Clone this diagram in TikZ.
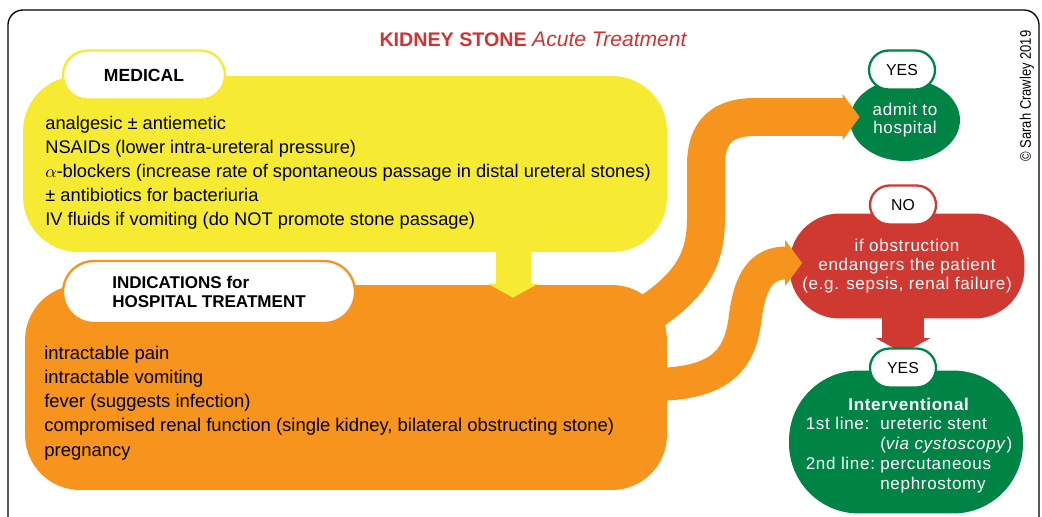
\documentclass[tikz,border=0pt]{standalone}
\usepackage{fontspec}
\setmainfont{Liberation Sans}
\newfontfamily\trackfont[LetterSpace=4]{Liberation Sans}
\newfontfamily\narrowfont[FakeStretch=0.85]{Liberation Sans}
\usetikzlibrary{calc,arrows.meta,shapes.geometric}

\begin{document}
\begin{tikzpicture}[x=0.02cm,y=-0.02cm,line join=round,
  txt/.style={font=\fontsize{10.4}{13.7}\selectfont,text=black,inner sep=0pt,align=left},
  panel/.style={rectangle,rounded corners=1.1cm,inner sep=0pt},
  tabpill/.style={rectangle,fill=white,draw=#1,line width=1.3pt,minimum width=1.32cm,
    minimum height=0.78cm,rounded corners=0.39cm,inner sep=0pt,font=\fontsize{9}{11}\selectfont},
  bubble/.style={fill=#1,text=white,inner sep=0pt,align=center},
  ribbon/.style={draw=orangecol,line width=#1,-{Triangle[length=0.34cm,width=0.9cm]}}]
  \definecolor{yellowcol}{RGB}{246,235,50}
  \definecolor{orangecol}{RGB}{246,148,30}
  \definecolor{greencol}{RGB}{0,132,70}
  \definecolor{redcol}{RGB}{208,56,50}
  \definecolor{titlecol}{RGB}{210,50,50}

  \useasboundingbox (0,0) rectangle (1042,517);
  % outer frame
  \draw[line width=0.75pt,rounded corners=0.3cm] (8,10) rectangle (1039,532);

  % title and credit
  \node[text=titlecol] (title) at (533,39)
    {\fontsize{11.2}{13}\selectfont\bfseries KIDNEY STONE \mdseries\itshape\fontsize{12}{13}\selectfont Acute Treatment};
  \node[rotate=90,font=\narrowfont\fontsize{8.7}{10}\selectfont] (credit) at (1027,96) {© Sarah Crawley 2019};

  % ---- medical panel ----
  \node[panel,fill=yellowcol,minimum width=12.88cm,minimum height=3.52cm] (medbox) at (345,164) {};
  \node[txt,anchor=north west] (medtext) at (45,116)
    {analgesic ± antiemetic\\
     NSAIDs (lower intra-ureteral pressure)\\
     $\alpha$-blockers (increase rate of spontaneous passage in distal ureteral stones)\\
     ± antibiotics for bacteriuria\\
     IV fluids if vomiting (do NOT promote stone passage)};

  % ---- hospital panel ----
  \node[panel,fill=orangecol,minimum width=12.84cm,minimum height=4.1cm] (indbox) at (346,387.5) {};
  \node[txt,anchor=north west,font=\fontsize{10.5}{13.8}\selectfont] (indtext) at (44,345.5)
    {intractable pain\\
     intractable vomiting\\
     fever (suggests infection)\\
     compromised renal function (single kidney, bilateral obstructing stone)\\
     pregnancy};

  % ---- outcome bubbles ----
  \node[ellipse,bubble=greencol,minimum width=2.2cm,minimum height=1.64cm,
    font=\trackfont\fontsize{9.7}{10.2}\selectfont] (admit) at (905,120) {admit to\\ hospital};
  \node[rectangle,rounded corners=1.0cm,bubble=redcol,minimum width=4.7cm,minimum height=2.1cm,
    font=\trackfont\fontsize{9.7}{10.8}\selectfont] (danger) at (907,266)
    {if obstruction\\ endangers the patient\\ (e.g. sepsis, renal failure)};
  \node[rectangle,rounded corners=1.4cm,bubble=greencol,minimum width=4.68cm,minimum height=2.86cm] (interv) at (906,442) {};
  \node[text=white,inner sep=0pt,align=center,font=\trackfont\fontsize{9.7}{11.4}\selectfont] (intervtext) at (909,447)
    {\textbf{Interventional}\\[2pt]
     \begin{tabular}{@{}l@{\hspace{3pt}}l@{}}
       1st line: & ureteric stent\\
                 & (\textit{via cystoscopy})\\
       2nd line: & percutaneous\\
                 & nephrostomy
     \end{tabular}};

  % ---- arrows ----
  \draw[draw=yellowcol,line width=0.7cm,-{Triangle[length=0.28cm,width=1.0cm]}]
    ($(medbox.south)+(168,-2)$) -- ($(indbox.north)+(167,13)$);
  \draw[ribbon=0.76cm] ($(indbox.north east)+(-37,40)$) .. controls (690,290) and (706,262) .. (706,218)
    -- (706,165) .. controls (706,132) and (722,117) .. (755,117) -- ($(admit.west)+(10,-3)$);
  \draw[ribbon=0.66cm] ($(indbox.east)+(-27,-3)$) -- (667,384) .. controls (735,380) and (742,345) .. (746,312)
    .. controls (751,280) and (762,263) .. ($(danger.west)+(13,-3)$);
  \draw[draw=redcol,line width=0.84cm,-{Triangle[length=0.3cm,width=1.08cm]}]
    ($(danger.south)+(-4,-2)$) -- ($(interv.north)+(-3,-17)$);

  % ---- tabs ----
  \node[tabpill=yellowcol,minimum width=3.24cm,minimum height=0.98cm,rounded corners=0.49cm,
    font=\bfseries\fontsize{10}{12}\selectfont] (medtab) at (144,75) {MEDICAL};
  \node[tabpill=orangecol,minimum width=5.84cm,minimum height=1.24cm,rounded corners=0.62cm,align=left,
    font=\bfseries\fontsize{9.7}{10.8}\selectfont] (indtab) at (209,292) {INDICATIONS for\\ HOSPITAL TREATMENT};
  \node[tabpill=greencol] (yes1) at (902,70) {YES};
  \node[tabpill=redcol] (no) at (903,205) {NO};
  \node[tabpill=greencol] (yes2) at (903,368) {YES};
\end{tikzpicture}
\end{document}
